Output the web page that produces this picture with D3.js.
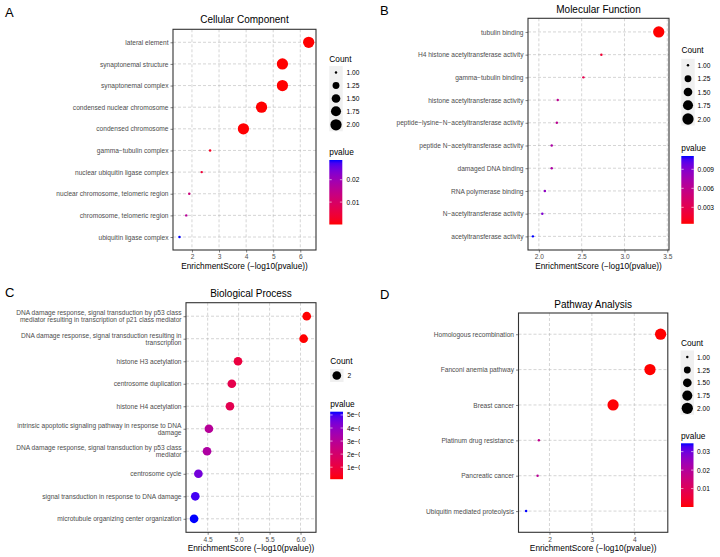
<!DOCTYPE html>
<html><head><meta charset="utf-8">
<script src="https://cdn.jsdelivr.net/npm/d3@7"></script>
<style>body{margin:0;background:#fff} text{font-family:"Liberation Sans",Arial,Helvetica,sans-serif}</style>
</head><body><svg id="c" width="720" height="557"></svg>
<script>
// ---------- DATA ----------
const ccTerms = ["lateral element","synaptonemal structure","synaptonemal complex","condensed nuclear chromosome","condensed chromosome","gamma\u2212tubulin complex","nuclear ubiquitin ligase complex","nuclear chromosome, telomeric region","chromosome, telomeric region","ubiquitin ligase complex"];
const ccScore = [6.31,5.34,5.34,4.57,3.90,2.67,2.36,1.90,1.79,1.54];
const ccCount = [2,2,2,2,2,1,1,1,1,1];
const ccP = [4.9e-7,4.6e-6,4.6e-6,2.7e-5,1.26e-4,0.00214,0.00437,0.0126,0.0162,0.0288];
const ccXTicks = [2,3,4,5,6];
const ccPTicks = [0.01,0.02];
const ccPLabels = ["0.01","0.02"];

const mfTerms = ["tubulin binding","H4 histone acetyltransferase activity","gamma\u2212tubulin binding","histone acetyltransferase activity","peptide\u2212lysine\u2212N\u2212acetyltransferase activity","peptide N\u2212acetyltransferase activity","damaged DNA binding","RNA polymerase binding","N\u2212acetyltransferase activity","acetyltransferase activity"];
const mfScore = [3.40,2.73,2.52,2.22,2.21,2.15,2.15,2.07,2.04,1.93];
const mfCount = [2,1,1,1,1,1,1,1,1,1];
const mfP = [0.00040,0.00186,0.00302,0.00603,0.00617,0.00708,0.00708,0.00851,0.00912,0.0111];
const mfXTicks = [2.0,2.5,3.0,3.5];
const mfPTicks = [0.003,0.006,0.009];
const mfPLabels = ["0.003","0.006","0.009"];

const bpTerms = ["DNA damage response, signal transduction by p53 class\nmediator resulting in transcription of p21 class mediator","DNA damage response, signal transduction resulting in\ntranscription","histone H3 acetylation","centrosome duplication","histone H4 acetylation","intrinsic apoptotic signaling pathway in response to DNA\ndamage","DNA damage response, signal transduction by p53 class\nmediator","centrosome cycle","signal transduction in response to DNA damage","microtubule organizing center organization"];
const bpScore = [6.10,6.05,4.99,4.89,4.86,4.52,4.49,4.35,4.30,4.28];
const bpCount = [2,2,2,2,2,2,2,2,2,2];
const bpP = [7.9e-7,8.9e-7,1.02e-5,1.29e-5,1.38e-5,3.02e-5,3.24e-5,4.47e-5,5.01e-5,5.25e-5];
const bpXTicks = [4.5,5.0,5.5,6.0];
const bpPTicks = [1e-5,2e-5,3e-5,4e-5,5e-5];
const bpPLabels = ["1e\u221205","2e\u221205","3e\u221205","4e\u221205","5e\u221205"];

const kgTerms = ["Homologous recombination","Fanconi anemia pathway","Breast cancer","Platinum drug resistance","Pancreatic cancer","Ubiquitin mediated proteolysis"];
const kgScore = [4.62,4.37,3.50,1.75,1.72,1.45];
const kgCount = [2,2,2,1,1,1];
const kgP = [2.4e-5,4.27e-5,3.16e-4,0.0178,0.0191,0.0345];
const kgXTicks = [2,3,4];
const kgPTicks = [0.01,0.02,0.03];
const kgPLabels = ["0.01","0.02","0.03"];

const sizeBreaks = [1.00,1.25,1.50,1.75,2.00];
const sizeBreakLabels = ["1.00","1.25","1.50","1.75","2.00"];

// ---------- DRAW ----------
const svg = d3.select("#c");
const defs = svg.append("defs");
defs.append("clipPath").attr("id","clipL").append("rect").attr("x",0).attr("y",0).attr("width",360).attr("height",557);

const panels = [
 {id:"A", letter:"A", lx:5, ly:16.7, title:"Cellular Component", tY:22.7,
  terms:ccTerms, score:ccScore, count:ccCount, p:ccP, xTicks:ccXTicks, pTicks:ccPTicks, pLabels:ccPLabels,
  left:173, right:316, top:29.3, bottom:250, xDomain:[1.30,6.58], fmt:d3.format("d"), axY:269,
  cnt:{x:329.3, ty:58.5, items:[72.5,85.5,98.5,111.3,124.8], cx:336, lx:346.5},
  pv:{x:329.3, ty:152.3, top:160, bottom:224.5, w:13, lx:346.5}, clip:true},
 {id:"B", letter:"B", lx:380, ly:15.3, title:"Molecular Function", tY:13,
  terms:mfTerms, score:mfScore, count:mfCount, p:mfP, xTicks:mfXTicks, pTicks:mfPTicks, pLabels:mfPLabels,
  left:528, right:669, top:18.3, bottom:250, xDomain:[1.873,3.52], fmt:d3.format(".1f"), axY:269.3,
  cnt:{x:681.5, ty:50.3, items:[65.3,78.8,92,105.2,119], cx:688, lx:697.5},
  pv:{x:681.3, ty:148, top:156, bottom:223.8, w:12.5, lx:697.5}, clip:false},
 {id:"C", letter:"C", lx:5, ly:296.7, title:"Biological Process", tY:296.5,
  terms:bpTerms, score:bpScore, count:bpCount, p:bpP, xTicks:bpXTicks, pTicks:bpPTicks, pLabels:bpPLabels,
  left:186, right:316, top:302.7, bottom:532.3, xDomain:[4.15,6.25], fmt:d3.format(".1f"), axY:551.3,
  cnt:{x:330.3, ty:360.8, items:[375.5], cx:336.8, lx:347.5, labels:["2"], single:true},
  pv:{x:330.2, ty:403.5, top:411.7, bottom:479.2, w:12.8, lx:347}, clip:true},
 {id:"D", letter:"D", lx:380, ly:299, title:"Pathway Analysis", tY:307.5,
  terms:kgTerms, score:kgScore, count:kgCount, p:kgP, xTicks:kgXTicks, pTicks:kgPTicks, pLabels:kgPLabels,
  left:518.5, right:667.8, top:313, bottom:532.3, xDomain:[1.27,4.79], fmt:d3.format("d"), axY:551,
  cnt:{x:681, ty:343, items:[357,370,382.8,395.6,408.3], cx:687.3, lx:697}, 
  pv:{x:681, ty:435.7, top:443.3, bottom:507, w:12.5, lx:697}, clip:false}
];

function radiusOf(c, ext){
  const t = ext[0]===ext[1] ? 0.5 : (c-ext[0])/(ext[1]-ext[0]);
  const size = 1 + 5*Math.sqrt(Math.max(0,t));
  return 0.88*size + 0.35;
}

panels.forEach(P=>{
  const g = svg.append("g");
  if(P.clip) g.attr("clip-path","url(#clipL)");
  const x = d3.scaleLinear().domain(P.xDomain).range([P.left,P.right]);
  const y = d3.scalePoint().domain(P.terms).range([P.top,P.bottom]).padding(0.6);
  const cExt = d3.extent(P.p);
  const col = d3.scaleLinear().domain(cExt).range(["red","blue"]).interpolate(d3.interpolateLab);
  const sExt = d3.extent(P.count);

  // background
  g.append("rect").attr("x",P.left).attr("y",P.top).attr("width",P.right-P.left).attr("height",P.bottom-P.top).attr("fill","#fff");
  // grid
  g.append("g").selectAll("line").data(P.xTicks).join("line")
    .attr("x1",d=>x(d)).attr("x2",d=>x(d)).attr("y1",P.top).attr("y2",P.bottom)
    .attr("stroke","#b8b8b8").attr("stroke-width",0.6).attr("stroke-dasharray","3,2");
  g.append("g").selectAll("line").data(P.terms).join("line")
    .attr("x1",P.left).attr("x2",P.right).attr("y1",d=>y(d)).attr("y2",d=>y(d))
    .attr("stroke","#b8b8b8").attr("stroke-width",0.6).attr("stroke-dasharray","3,2");

  // points
  const pts = P.terms.map((t,i)=>({t, s:P.score[i], c:P.count[i], p:P.p[i]}));
  g.append("g").selectAll("circle").data(pts).join("circle")
    .attr("cx",d=>x(d.s)).attr("cy",d=>y(d.t)).attr("r",d=>radiusOf(d.c,sExt))
    .attr("fill",d=>col(d.p));

  // border
  g.append("rect").attr("x",P.left).attr("y",P.top).attr("width",P.right-P.left).attr("height",P.bottom-P.top)
    .attr("fill","none").attr("stroke","#333").attr("stroke-width",1.1);

  // axes
  const ax = g.append("g").attr("transform",`translate(0,${P.bottom})`)
    .call(d3.axisBottom(x).tickValues(P.xTicks).tickFormat(P.fmt).tickSize(2.5).tickPadding(2.3));
  const ay = g.append("g").attr("transform",`translate(${P.left},0)`)
    .call(d3.axisLeft(y).tickSize(2.5).tickPadding(2));
  [ax,ay].forEach(a=>{
    a.select(".domain").remove();
    a.selectAll(".tick line").attr("stroke","#333").attr("stroke-width",0.6);
    a.selectAll(".tick text").attr("fill","#4d4d4d").attr("font-size",6.6).attr("font-family",'"Liberation Sans",Arial,sans-serif');
  });
  ay.selectAll(".tick text").each(function(d){
    const lines = d.split("\n");
    if(lines.length>1){
      const t = d3.select(this); const xx = t.attr("x");
      t.text(null).attr("dy",null);
      const lh = 7;
      lines.forEach((ln,k)=>{
        t.append("tspan").attr("x",xx).attr("dy", k===0 ? (-(lines.length-1)/2*lh + 2.2) : lh).text(ln);
      });
    }
  });

  // titles
  g.append("text").attr("x",(P.left+P.right)/2).attr("y",P.tY).attr("text-anchor","middle")
    .attr("font-size",10).attr("fill","#000").text(P.title);
  g.append("text").attr("x",(P.left+P.right)/2).attr("y",P.axY).attr("text-anchor","middle")
    .attr("font-size",8.3).attr("fill","#000").text("EnrichmentScore (\u2212log10(pvalue))");
  svg.append("text").attr("x",P.lx).attr("y",P.ly).attr("font-size",13).attr("fill","#000").text(P.letter);

  // count legend
  const C = P.cnt;
  g.append("text").attr("x",C.x).attr("y",C.ty).attr("dominant-baseline","central").attr("font-size",8.3).text("Count");
  const items = C.single ? [sExt[1]] : sizeBreaks;
  const labels = C.labels || sizeBreakLabels;
  const iy0 = C.items[0], iy1 = C.items[C.items.length-1];
  g.append("rect").attr("x",C.cx-6.7).attr("y",iy0-6.5).attr("width",13.4).attr("height",iy1-iy0+13)
    .attr("fill","#f0f0f0");
  items.forEach((v,i)=>{
    g.append("circle").attr("cx",C.cx).attr("cy",C.items[i]).attr("r",radiusOf(v,sExt)).attr("fill","#000");
    g.append("text").attr("x",C.lx).attr("y",C.items[i]).attr("dominant-baseline","central")
      .attr("font-size",6.6).attr("fill","#000").text(labels[i]);
  });

  // pvalue colorbar
  const V = P.pv;
  g.append("text").attr("x",V.x).attr("y",V.ty).attr("dominant-baseline","central").attr("font-size",8.3).text("pvalue");
  const gid = "grad"+P.id;
  const grad = defs.append("linearGradient").attr("id",gid).attr("x1",0).attr("y1",1).attr("x2",0).attr("y2",0);
  d3.range(0,1.0001,0.05).forEach(t=>{
    grad.append("stop").attr("offset",t).attr("stop-color",col(cExt[0]+t*(cExt[1]-cExt[0])));
  });
  g.append("rect").attr("x",V.x).attr("y",V.top).attr("width",V.w).attr("height",V.bottom-V.top).attr("fill",`url(#${gid})`);
  const cy = d3.scaleLinear().domain(cExt).range([V.bottom,V.top]);
  P.pTicks.forEach((v,i)=>{
    g.append("line").attr("x1",V.x).attr("x2",V.x+2.4).attr("y1",cy(v)).attr("y2",cy(v)).attr("stroke","#fff").attr("stroke-width",0.6);
    g.append("line").attr("x1",V.x+V.w-2.4).attr("x2",V.x+V.w).attr("y1",cy(v)).attr("y2",cy(v)).attr("stroke","#fff").attr("stroke-width",0.6);
    g.append("text").attr("x",V.lx).attr("y",cy(v)).attr("dominant-baseline","central")
      .attr("font-size",6.6).attr("fill","#000").text(P.pLabels[i]);
  });
});
</script></body></html>
